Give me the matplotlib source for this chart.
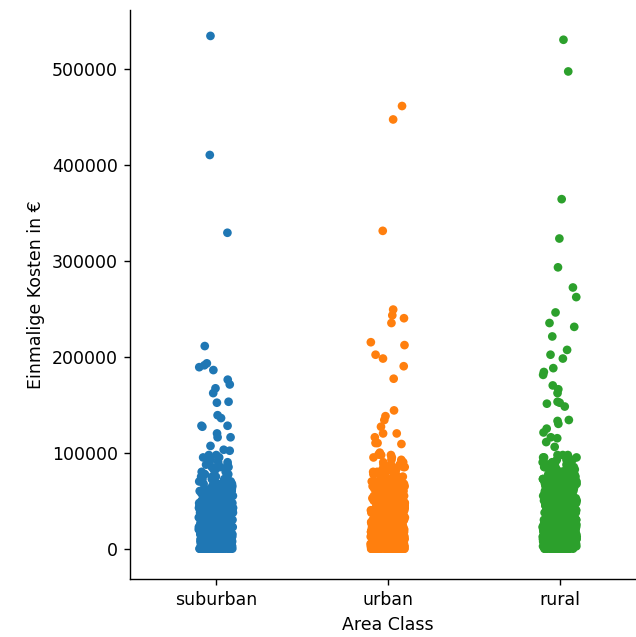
import numpy as np
import pandas as pd
import matplotlib
matplotlib.use("Agg")
import matplotlib.pyplot as plt
import seaborn as sns

area_classes = ["suburban", "urban", "rural"]
colors = ["#1f77b4", "#ff7f0e", "#2ca02c"]

# dense core: value levels and how many points sit near each level (estimated)
core_levels = [0, 2500, 5000, 7500, 10000, 12500, 15000, 17500, 20000,
               22500, 25000, 27500, 30000, 32500, 35000, 37500, 40000, 42500, 45000,
               47500, 50000, 52500, 55000, 57500, 60000, 62500, 65000, 67500, 70000,
               72500, 75000, 77500, 80000, 82500, 85000, 87500, 90000, 92500, 95000, 97500]
suburban_counts = [40, 30, 28, 26, 25, 24, 22, 20, 20,
                   18, 18, 16, 16, 15, 14, 13, 12, 12, 11,
                   10, 9, 8, 8, 7, 7, 6, 6, 5, 5,
                   4, 4, 4, 3, 3, 3, 2, 2, 2, 2, 2]
urban_counts = [40, 30, 28, 26, 25, 24, 22, 20, 20,
                18, 18, 17, 16, 16, 15, 15, 14, 14, 13,
                13, 12, 12, 11, 11, 10, 10, 9, 8, 7,
                6, 5, 5, 4, 4, 3, 3, 2, 2, 2, 2]
rural_counts = [36, 28, 25, 24, 22, 20, 20, 18, 18,
                16, 16, 15, 15, 14, 14, 13, 13, 12, 12,
                12, 11, 11, 10, 10, 10, 9, 9, 9, 8,
                8, 7, 7, 6, 5, 5, 4, 4, 3, 3, 3]

# sparse upper points
suburban_high = [534000, 410000, 329000, 211000, 193000, 191000, 189000, 186000,
                 176000, 171000, 167000, 162000, 153000, 152000, 139000, 136000,
                 128000, 128000, 127000, 120000, 116000, 116000, 107000, 103000, 102000]
urban_high = [461000, 447000, 331000, 249000, 243000, 240000, 235000, 215000, 212000,
              202000, 198000, 190000, 177000, 144000, 138000, 134000, 127000, 120000,
              120000, 116000, 110000, 110000, 109000, 100000, 98000]
rural_high = [530000, 497000, 364000, 323000, 293000, 272000, 262000, 246000, 235000,
              231000, 221000, 207000, 202000, 198000, 188000, 184000, 181000, 170000,
              166000, 162000, 153000, 152000, 151000, 148000, 134000, 133000, 130000,
              125000, 121000, 116000, 115000, 111000, 106000]

rows = []
for name, counts, high in [("suburban", suburban_counts, suburban_high),
                           ("urban", urban_counts, urban_high),
                           ("rural", rural_counts, rural_high)]:
    vals = list(np.repeat(core_levels, counts)) + high
    rows += [(name, v) for v in vals]
df = pd.DataFrame(rows, columns=["Area Class", "Einmalige Kosten in €"])

np.random.seed(3)
fig = plt.figure(figsize=(636 / 125, 637 / 125), dpi=125)
ax = fig.add_axes([130 / 636, 58 / 637, 515.5 / 636, 569 / 637])
sns.stripplot(data=df, x="Area Class", y="Einmalige Kosten in €", hue="Area Class",
              order=area_classes, hue_order=area_classes, palette=colors,
              legend=False, size=5, linewidth=0, ax=ax)
ax.set_xlim(-0.5, 2.5)
ax.set_ylim(-31600, 561000)
ax.spines["top"].set_visible(False)
ax.spines["right"].set_visible(False)
ax.set_xlabel("Area Class")
ax.set_ylabel("Einmalige Kosten in €")
fig.savefig("out.png", dpi=125)
